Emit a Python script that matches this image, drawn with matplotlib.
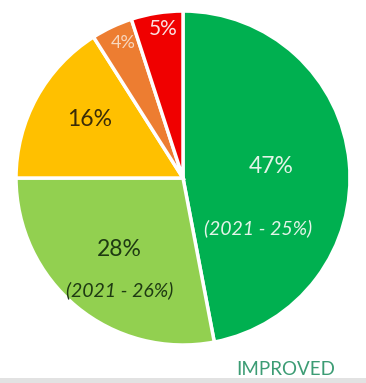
import matplotlib
matplotlib.use("Agg")

import matplotlib.pyplot as plt
from matplotlib.patches import Rectangle

plt.rcParams["font.family"] = ["Lato", "DejaVu Sans"]

# slice data, clockwise from 12 o'clock
shares = [47, 28, 16, 4, 5]
prior_2021 = ["(2021 - 25%)", "(2021 - 26%)", None, None, None]
colors = ["#00B050", "#92D050", "#FFC000", "#ED7D31", "#F00000"]
text_colors = ["#E4F4E8", "#1E3A12", "#3A2C08", "#F8D8C0", "#FBE0E0"]

# label anchors (data units) and font sizes
pct_pos = [(0.53, 0.07), (-0.38, -0.43), (-0.56, 0.35), (-0.36, 0.81), (-0.12, 0.89)]
sub_pos = [(0.45, -0.30), (-0.38, -0.67), None, None, None]
pct_size = [16.5, 16.5, 16.5, 13, 15]

fig = plt.figure(figsize=(3.66, 3.83), dpi=100)
fig.patch.set_facecolor("white")

ax = fig.add_axes([0.0437, 0.0992, 0.9126, 0.872])
ax.pie(shares, colors=colors, startangle=90, counterclock=False, radius=1,
       wedgeprops=dict(edgecolor="white", linewidth=2.5))
ax.set_xlim(-1.0, 1.0)
ax.set_ylim(-1.0, 1.0)
ax.set_aspect("equal")
ax.axis("off")

for i, v in enumerate(shares):
    x, y = pct_pos[i]
    ax.text(x, y, f"{v}%", ha="center", va="center",
            fontsize=pct_size[i], color=text_colors[i])
    if prior_2021[i]:
        sx, sy = sub_pos[i]
        ax.text(sx, sy, prior_2021[i], ha="center", va="center",
                fontsize=14, style="italic", color=text_colors[i])

fig.text(0.78, 0.034, "IMPROVED", ha="center", va="center",
         fontsize=13.5, color="#3C9C74")

# thin grey strip along the bottom edge
fig.patches.append(Rectangle((0, 0), 1, 0.013, transform=fig.transFigure,
                             facecolor="#E2E2E2", edgecolor="none"))

fig.savefig("out.png", dpi=100)
